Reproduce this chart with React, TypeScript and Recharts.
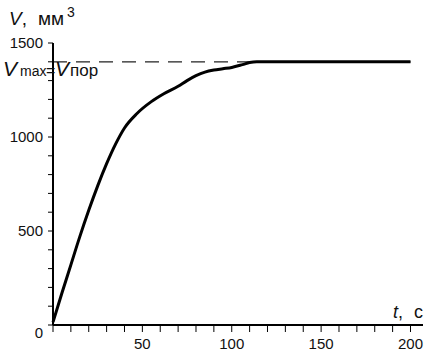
import React from 'react';
import { LineChart, Line, XAxis, YAxis, ReferenceLine } from 'recharts';

const tValues = [0, 5, 10, 15, 20, 25, 30, 35, 40, 47, 55, 62, 70, 75, 80, 85, 90, 95, 100, 106, 110, 114, 130, 150, 175, 200];
const vValues = [15, 170, 320, 470, 610, 740, 858, 962, 1048, 1125, 1188, 1230, 1270, 1300, 1326, 1345, 1356, 1363, 1370, 1385, 1396, 1400, 1400, 1400, 1400, 1400];
const xTicks = [0, 10, 20, 30, 40, 50, 60, 70, 80, 90, 100, 110, 120, 130, 140, 150, 160, 170, 180, 190, 200];
const xLabels = [50, 100, 150, 200];
const yTicks = [0, 100, 200, 300, 400, 500, 600, 700, 800, 900, 1000, 1100, 1200, 1300, 1400, 1500];
const yLabels = [0, 500, 1000, 1500];
const vMax = 1400;

const data = tValues.map((t, i) => ({ t, v: vValues[i] }));

const FONT = 'Arial, "Liberation Sans", sans-serif';

const XTick = (props: any) => {
  const { x, y, payload } = props;
  if (!xLabels.includes(payload.value)) return <g />;
  return (
    <text x={x} y={y} dy="0.71em" textAnchor="middle" fontFamily={FONT} fontSize={15} fill="#111">
      {payload.value}
    </text>
  );
};

const YTick = (props: any) => {
  const { x, y, payload } = props;
  if (!yLabels.includes(payload.value)) return <g />;
  const extra = payload.value === 0 ? 8 : 0;
  return (
    <text x={x} y={y + extra} dy="0.355em" textAnchor="end" fontFamily={FONT} fontSize={15} fill="#111">
      {payload.value}
    </text>
  );
};

export default function App() {
  return (
    <div style={{ position: 'absolute', left: 0, top: 0, width: 432, height: 359, background: '#fff' }}>
      <LineChart width={432} height={359} data={data} margin={{ top: 43, right: 9, bottom: 4, left: 8 }}>
        <XAxis
          type="number"
          dataKey="t"
          domain={[0, 207]}
          ticks={xTicks}
          interval={0}
          tick={<XTick />}
          tickSize={7}
          tickMargin={6}
          height={30}
          axisLine={{ stroke: '#000', strokeWidth: 2 }}
          tickLine={{ stroke: '#000', strokeWidth: 1 }}
        />
        <YAxis
          type="number"
          domain={[0, 1500]}
          ticks={yTicks}
          interval={0}
          tick={<YTick />}
          tickSize={5}
          tickMargin={5}
          width={45}
          axisLine={{ stroke: '#000', strokeWidth: 2 }}
          tickLine={{ stroke: '#000', strokeWidth: 1 }}
        />
        <ReferenceLine
          segment={[{ x: 0, y: vMax }, { x: 200, y: vMax }]}
          stroke="#222"
          strokeWidth={1.3}
          strokeDasharray="14 9"
        />
        <Line
          type="monotone"
          dataKey="v"
          stroke="#000"
          strokeWidth={3}
          dot={false}
          isAnimationActive={false}
        />
      </LineChart>
      <svg width={432} height={359} style={{ position: 'absolute', left: 0, top: 0, pointerEvents: 'none' }}>
        <text y={25} fontFamily={FONT} fontSize={19} fill="#111">
          <tspan x={9} fontStyle="italic">V</tspan>
          <tspan>,</tspan>
          <tspan x={38}>мм</tspan>
          <tspan x={67} dy={-8} fontSize={14}>3</tspan>
        </text>
        <text y={76} fontFamily={FONT} fill="#111">
          <tspan x={3} fontSize={21} fontStyle="italic">V</tspan>
          <tspan x={20} fontSize={14}>max</tspan>
          <tspan x={46} fontSize={16}>=</tspan>
          <tspan x={55} fontSize={21} fontStyle="italic">V</tspan>
          <tspan x={70} fontSize={17}>пор</tspan>
        </text>
        <text y={318} fontFamily={FONT} fontSize={18} fill="#111">
          <tspan x={393} fontStyle="italic">t</tspan>
          <tspan>,</tspan>
          <tspan x={414}>с</tspan>
        </text>
      </svg>
    </div>
  );
}
